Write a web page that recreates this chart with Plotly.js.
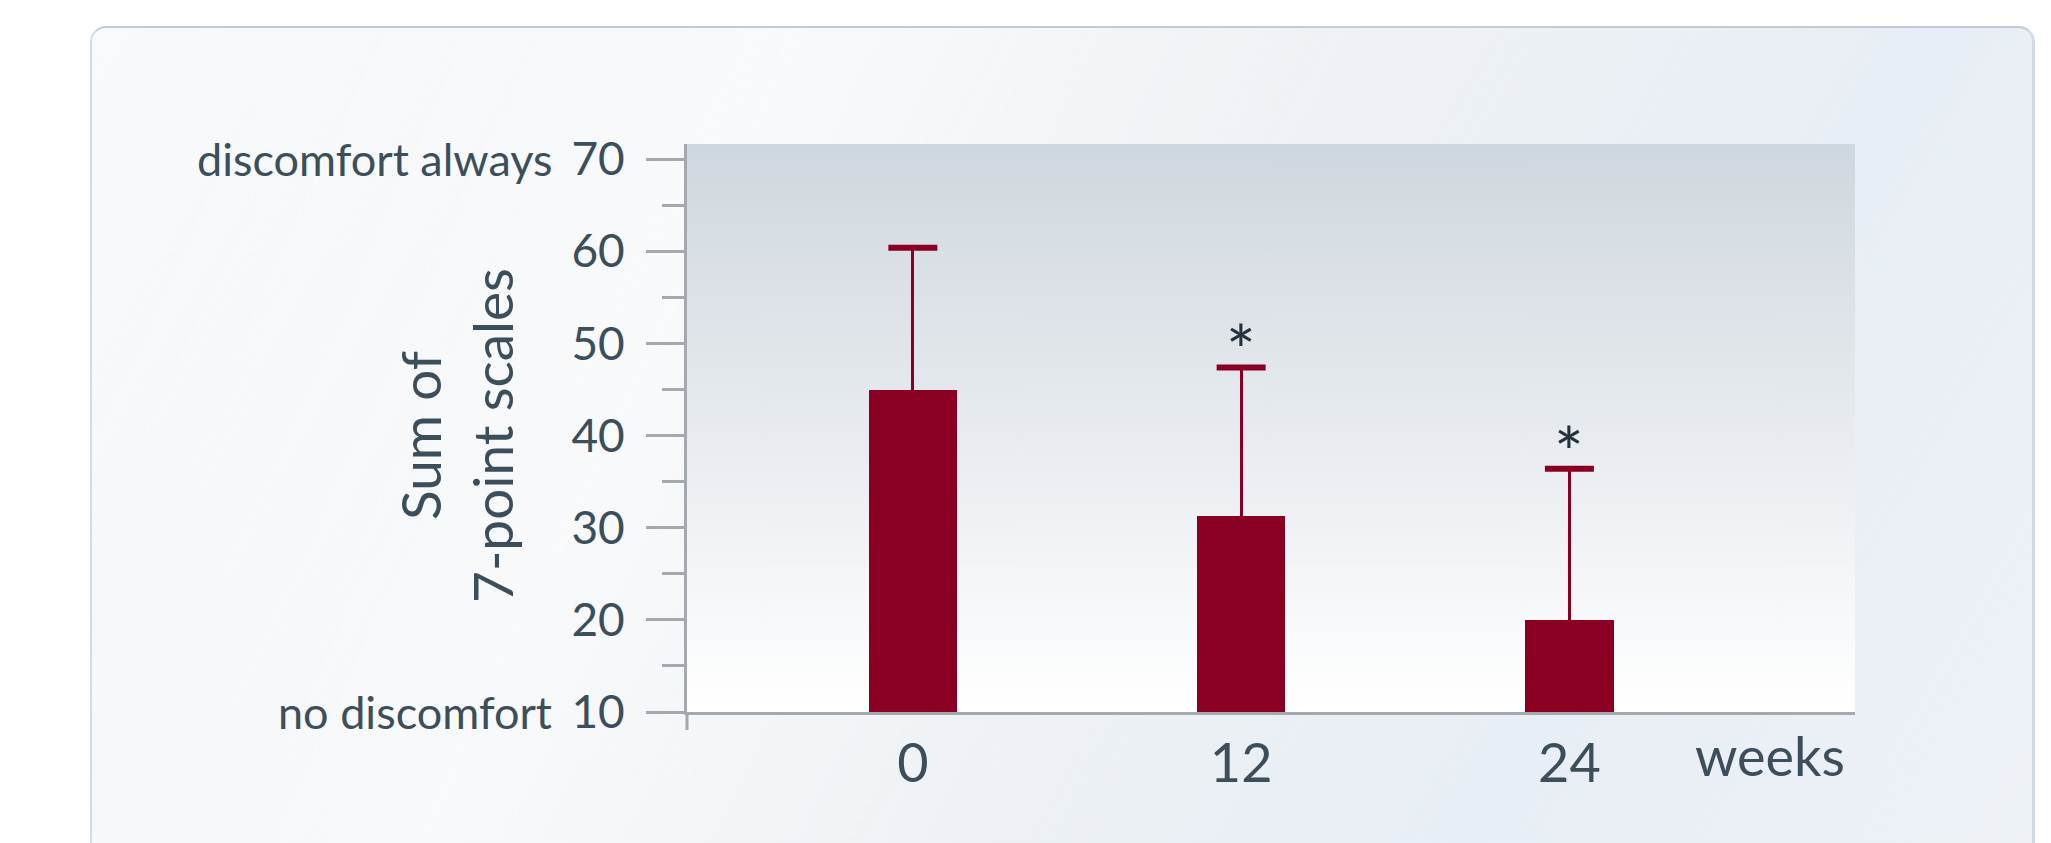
<!DOCTYPE html>
<html>
<head>
<meta charset="utf-8">
<script src="https://cdn.plot.ly/plotly-3.0.1.min.js"></script>
<style>
  html, body { margin: 0; padding: 0; width: 2051px; height: 843px; overflow: hidden; background: #ffffff; }
  #card {
    position: absolute; left: 90px; top: 26px; width: 1940px; height: 900px;
    border-radius: 16px;
    border-top: 2px solid #bfccd6; border-left: 2px solid #d3dce3; border-right: 3px solid #d0dbe4;
    background:
      linear-gradient(115deg, rgba(255,255,255,0.0) 0%, rgba(255,255,255,0.55) 30%, rgba(255,255,255,0) 55%),
      linear-gradient(120deg, #f8fafc 0%, #eff3f6 30%, #edf1f5 55%, #e8eef5 75%, #eef2f7 100%);
  }
  #chart { position: absolute; left: 0; top: 0; width: 2051px; height: 843px; }
</style>
</head>
<body>
<div id="card"></div>
<div id="chart"></div>
<script>
// Weeks of treatment and the summed 7-point discomfort scores (mean and SD)
const weeks = ['0', '12', '24'];
const meanScore = [45.0, 31.3, 20.0];
const sdScore = [15.4, 16.1, 16.4];
const significant = [false, true, true];

const yTicks = [10, 20, 30, 40, 50, 60, 70];
const scaleLabels = { low: 'no discomfort', high: 'discomfort always' };
const yFloor = 10;

const textColor = '#3d4e5b';
const barColor = '#8a0022';
const axisColor = '#a3a9ae';
const fontFamily = 'Lato, "Open Sans", sans-serif';

const bgSvg = '<svg xmlns="http://www.w3.org/2000/svg" width="100" height="100" preserveAspectRatio="none">' +
  '<defs><linearGradient id="g" x1="0" y1="0" x2="0" y2="1">' +
  '<stop offset="0" stop-color="#cfd7de"/><stop offset="0.5" stop-color="#e7ebef"/>' +
  '<stop offset="1" stop-color="#ffffff"/></linearGradient></defs>' +
  '<rect width="100" height="100" fill="url(#g)"/></svg>';

// Bars rise from the bottom of the scale (10)
const bars = {
  type: 'bar',
  x: weeks,
  y: meanScore.map(m => m - yFloor),
  base: yFloor,
  width: 0.27,
  marker: { color: barColor, line: { width: 0 } },
  error_y: {
    type: 'data', symmetric: false, array: sdScore, arrayminus: weeks.map(() => 0),
    color: barColor, thickness: 3, width: 0
  },
  hoverinfo: 'x+y'
};

// Caps on top of each error bar
const caps = {
  type: 'scatter', mode: 'markers',
  x: weeks,
  y: meanScore.map((m, i) => m + sdScore[i]),
  marker: { symbol: 'line-ew', size: 35, line: { color: barColor, width: 6 } },
  hoverinfo: 'skip'
};

const annotations = [
  { xref: 'paper', yref: 'y', x: 0, y: 70, xshift: -133, xanchor: 'right', yanchor: 'middle',
    text: scaleLabels.high, showarrow: false, font: { family: fontFamily, size: 45, color: textColor } },
  { xref: 'paper', yref: 'y', x: 0, y: 10, xshift: -133, xanchor: 'right', yanchor: 'middle',
    text: scaleLabels.low, showarrow: false, font: { family: fontFamily, size: 45, color: textColor } },
  { xref: 'paper', yref: 'paper', x: 0, y: 0.5, xshift: -231, yshift: -8, xanchor: 'center', yanchor: 'middle',
    textangle: -90, text: 'Sum of<br>7-point scales', showarrow: false,
    font: { family: fontFamily, size: 55, color: textColor } },
  { xref: 'paper', yref: 'paper', x: 1, y: 0, xshift: -8, yshift: -9, xanchor: 'right', yanchor: 'top',
    text: 'weeks', showarrow: false, font: { family: fontFamily, size: 54, color: textColor } }
];
// Significance markers above the error bars
weeks.forEach((w, i) => {
  if (significant[i]) {
    annotations.push({
      xref: 'x', yref: 'y', x: i, y: meanScore[i] + sdScore[i], yshift: -26,
      xanchor: 'center', yanchor: 'bottom', text: '*', showarrow: false,
      font: { family: fontFamily, size: 70, color: '#25323d' }
    });
  }
});

const layout = {
  width: 2051, height: 843,
  margin: { l: 687, r: 196, t: 144, b: 131, pad: 0 },
  paper_bgcolor: 'rgba(0,0,0,0)',
  plot_bgcolor: 'rgba(0,0,0,0)',
  showlegend: false,
  bargap: 0,
  xaxis: {
    type: 'category', range: [-0.688, 2.87],
    showline: true, linecolor: axisColor, linewidth: 3,
    showgrid: false, zeroline: false, ticks: '',
    ticklabelstandoff: 2,
    tickfont: { family: fontFamily, size: 54, color: textColor },
    fixedrange: true
  },
  yaxis: {
    range: [yFloor, 71.65],
    tickvals: yTicks,
    showline: true, linecolor: axisColor, linewidth: 3,
    showgrid: false, zeroline: false,
    ticks: 'outside', ticklen: 38, tickwidth: 3, tickcolor: axisColor,
    minor: { ticks: 'outside', ticklen: 22, tickwidth: 3, tickcolor: axisColor, tick0: 15, dtick: 10, showgrid: false },
    ticklabelstandoff: 12,
    tickfont: { family: fontFamily, size: 46, color: textColor },
    fixedrange: true
  },
  images: [{
    source: 'data:image/svg+xml;utf8,' + encodeURIComponent(bgSvg),
    xref: 'paper', yref: 'paper', x: 0, y: 1, sizex: 1, sizey: 1,
    sizing: 'stretch', xanchor: 'left', yanchor: 'top', layer: 'below'
  }],
  shapes: [
    // y axis line continues a little below the x axis
    { type: 'line', xref: 'paper', yref: 'paper', x0: 0, x1: 0, y0: 0, y1: -18 / 568,
      line: { color: axisColor, width: 3 } }
  ],
  annotations: annotations
};

Plotly.newPlot('chart', [bars, caps], layout, { displayModeBar: false, staticPlot: true });
</script>
</body>
</html>
